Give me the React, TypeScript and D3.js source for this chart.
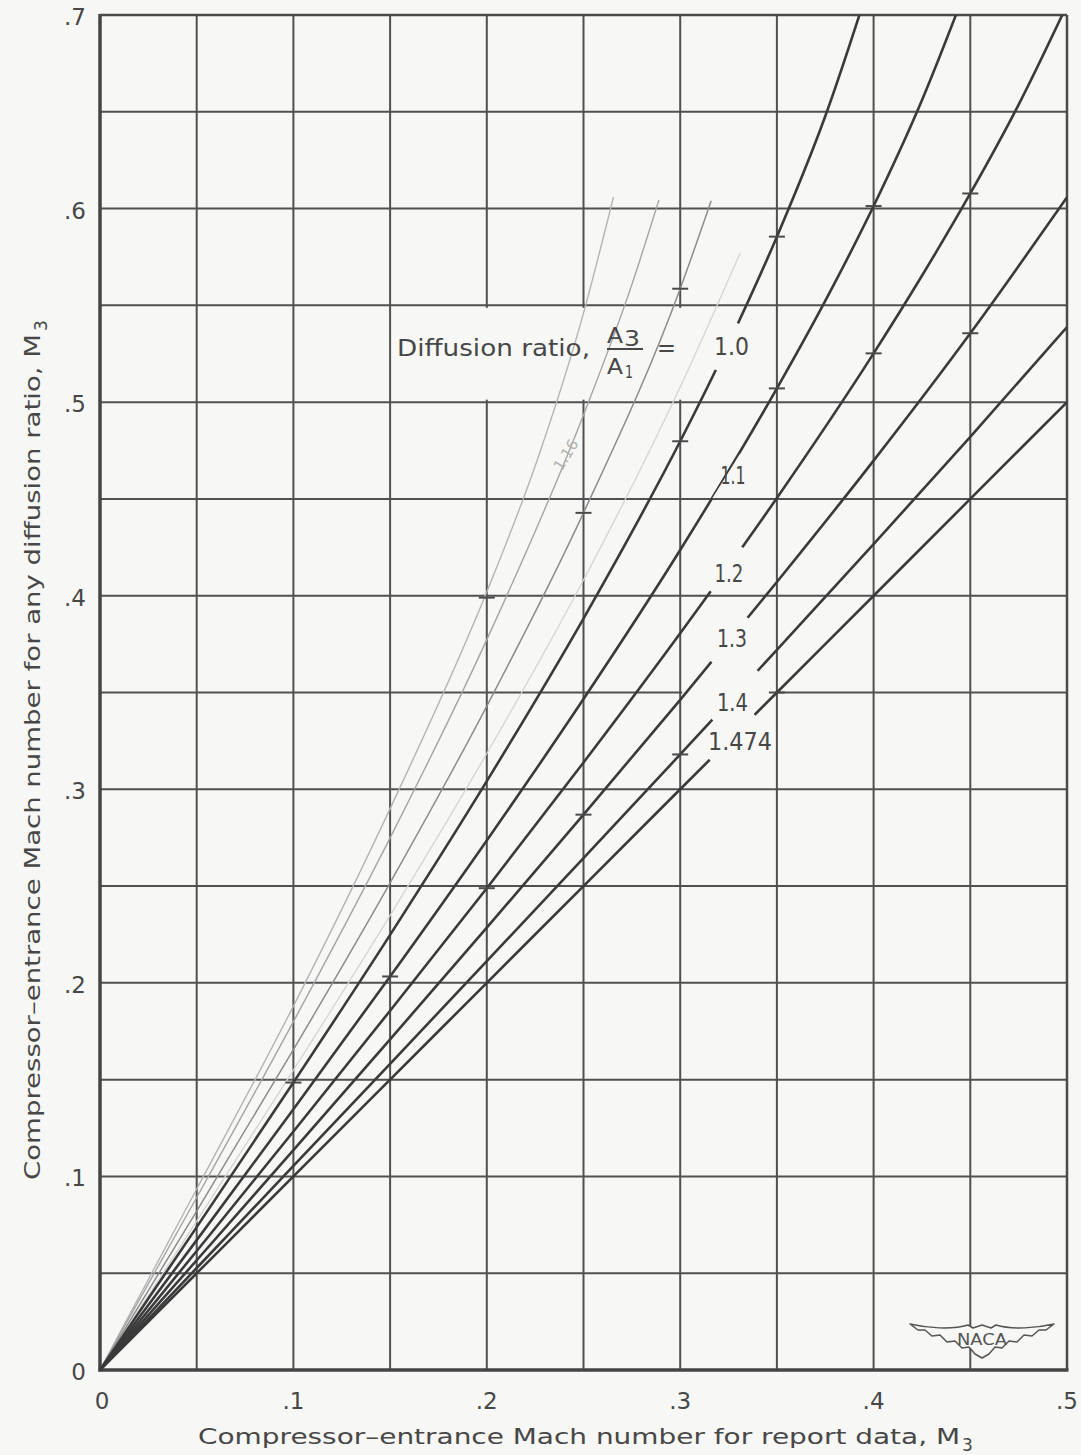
import React from "react";
import * as d3 from "d3";

const W = 1081;
const H = 1455;

// ---- axes / grid values ----
const gridXValues = [0, 0.05, 0.1, 0.15, 0.2, 0.25, 0.3, 0.35, 0.4, 0.45, 0.5];
const gridYValues = [0, 0.05, 0.1, 0.15, 0.2, 0.25, 0.3, 0.35, 0.4, 0.45, 0.5, 0.55, 0.6, 0.65, 0.7];
const xTickValues = [0, 0.1, 0.2, 0.3, 0.4, 0.5];
const xTickLabels = ["0", ".1", ".2", ".3", ".4", ".5"];
const yTickValues = [0, 0.1, 0.2, 0.3, 0.4, 0.5, 0.6, 0.7];
const yTickLabels = ["0", ".1", ".2", ".3", ".4", ".5", ".6", ".7"];

// ---- dark curves: diffusion ratio A3/A1 ----
const r100X = [0, 0.05, 0.1, 0.15, 0.2, 0.25, 0.275, 0.3, 0.325, 0.35, 0.375, 0.4];
const r100Y = [0, 0.0738, 0.1485, 0.2248, 0.3042, 0.3882, 0.4328, 0.4798, 0.5303, 0.5855, 0.6477, 0.7228];
const r110X = [0, 0.05, 0.1, 0.15, 0.2, 0.25, 0.3, 0.35, 0.375, 0.4, 0.425, 0.45];
const r110Y = [0, 0.0671, 0.1347, 0.2033, 0.2736, 0.3466, 0.4236, 0.5071, 0.5523, 0.6013, 0.656, 0.7194];
const r120X = [0, 0.05, 0.1, 0.15, 0.2, 0.25, 0.3, 0.35, 0.4, 0.425, 0.45, 0.475, 0.5];
const r120Y = [0, 0.0615, 0.1232, 0.1856, 0.2489, 0.3138, 0.3806, 0.4505, 0.5252, 0.5653, 0.6078, 0.6537, 0.7052];
const r130X = [0, 0.05, 0.1, 0.15, 0.2, 0.25, 0.3, 0.35, 0.4, 0.45, 0.5];
const r130Y = [0, 0.0567, 0.1136, 0.1708, 0.2285, 0.2869, 0.3462, 0.4071, 0.4698, 0.5356, 0.6058];
const r140X = [0, 0.05, 0.1, 0.15, 0.2, 0.25, 0.3, 0.35, 0.4, 0.45, 0.5];
const r140Y = [0, 0.0527, 0.1054, 0.1582, 0.2112, 0.2644, 0.318, 0.372, 0.4266, 0.4821, 0.5388];
const r1474X = [0, 0.05, 0.1, 0.15, 0.2, 0.25, 0.3, 0.35, 0.4, 0.45, 0.5];
const r1474Y = [0, 0.05, 0.1, 0.15, 0.2, 0.25, 0.3, 0.35, 0.4, 0.45, 0.5];
const darkLabels = ["1.0", "1.1", "1.2", "1.3", "1.4", "1.474"];

// ---- faint pencil curves ----
const p1X = [0, 0.05, 0.1, 0.15, 0.2, 0.225, 0.25, 0.2655];
const p1Y = [0, 0.0935, 0.188, 0.29, 0.402, 0.467, 0.546, 0.606];
const p2X = [0, 0.05, 0.1, 0.15, 0.2, 0.25, 0.275, 0.289];
const p2Y = [0, 0.0891, 0.18, 0.2749, 0.3773, 0.4934, 0.5607, 0.6045];
const p3X = [0, 0.05, 0.1, 0.15, 0.2, 0.25, 0.3, 0.316];
const p3Y = [0, 0.0821, 0.1655, 0.2517, 0.343, 0.4428, 0.5586, 0.604];
const p4X = [0, 0.05, 0.1, 0.15, 0.2, 0.25, 0.3, 0.331];
const p4Y = [0, 0.0769, 0.1549, 0.2349, 0.3185, 0.4081, 0.5078, 0.577];

// ---- plotted check marks on curves ----
const markX = [0.1, 0.15, 0.2, 0.25, 0.3, 0.35, 0.3, 0.35, 0.4, 0.45, 0.35, 0.4, 0.45, 0.2, 0.25, 0.3];
const markY = [0.1485, 0.2033, 0.2489, 0.2869, 0.318, 0.35, 0.4798, 0.5071, 0.5252, 0.5356, 0.5855, 0.6013, 0.6078, 0.399, 0.4428, 0.5586];

// ---- layout (not data) ----
const labelPos = [
  { x: 0.3265, y: 0.5287, w: 35 },
  { x: 0.3273, y: 0.4618, w: 25 },
  { x: 0.3252, y: 0.4112, w: 29 },
  { x: 0.3268, y: 0.3776, w: 30 },
  { x: 0.327, y: 0.3448, w: 31 },
  { x: 0.3309, y: 0.3244, w: 64 },
];
const gaps = [
  [0.3188, 0.5165, 0.33, 0.5406],
  [0.319, 0.4483, 0.3335, 0.4716],
  [0.3164, 0.4019, 0.332, 0.4251],
  [0.3164, 0.3657, 0.3345, 0.3889],
  [0.318, 0.3347, 0.3413, 0.36],
  [0.3154, 0.3151, 0.3387, 0.3383],
];
const faintStyles = [
  { stroke: "#b4b4b4", w: 1.4 },
  { stroke: "#a4a4a4", w: 1.4 },
  { stroke: "#8c8c8c", w: 1.5 },
  { stroke: "#d4d4d4", w: 1.3 },
];

const FONT = "'DejaVu Sans', 'Open Sans', sans-serif";
const INK = "#474747";
const BG = "#f7f7f5";

export default function App() {
  const sx = d3.scaleLinear().domain([0, 0.5]).range([100, 1067]);
  const sy = d3.scaleLinear().domain([0, 0.7]).range([1370, 15]);
  const line = d3
    .line<[number, number]>()
    .x((d) => sx(d[0]))
    .y((d) => sy(d[1]))
    .curve(d3.curveMonotoneX);

  const dark = [
    [r100X, r100Y],
    [r110X, r110Y],
    [r120X, r120Y],
    [r130X, r130Y],
    [r140X, r140Y],
    [r1474X, r1474Y],
  ].map(([xs, ys], i) => ({
    label: darkLabels[i],
    pts: d3.zip(xs, ys) as [number, number][],
    gap: gaps[i],
    pos: labelPos[i],
  }));
  const faint = [
    [p1X, p1Y],
    [p2X, p2Y],
    [p3X, p3Y],
    [p4X, p4Y],
  ].map(([xs, ys], i) => ({ pts: d3.zip(xs, ys) as [number, number][], st: faintStyles[i] }));
  const marks = d3.zip(markX, markY);

  const x0 = sx(0), x1 = sx(0.5), y0 = sy(0), y1 = sy(0.7);

  // NACA logo
  const lcx = 982, lcy = 1322;
  const wing =
    "M -72 2 C -55 6, -30 8, -14 3 L -9 6 L 0 3 L 9 6 L 14 3 C 30 8, 55 6, 72 2 " +
    "L 64 8 L 57 8 L 50 14 L 42 13 L 35 20 L 27 19 L 20 26 L 13 25 L 7 32 L 0 36 " +
    "L -7 32 L -13 25 L -20 26 L -27 19 L -35 20 L -42 13 L -50 14 L -57 8 L -64 8 Z";

  return (
    <div style={{ position: "absolute", left: 0, top: 0, width: W, height: H }}>
      <svg width={W} height={H} viewBox={`0 0 ${W} ${H}`} style={{ display: "block" }}>
        <defs>
          <clipPath id="plotClip">
            <rect x={x0} y={y1} width={x1 - x0} height={y0 - y1} />
          </clipPath>
          <mask id="gapMask" maskUnits="userSpaceOnUse" x={0} y={0} width={W} height={H}>
            <rect x={0} y={0} width={W} height={H} fill="white" />
            {dark.map((s, i) => (
              <line
                key={i}
                x1={sx(s.gap[0])}
                y1={sy(s.gap[1])}
                x2={sx(s.gap[2])}
                y2={sy(s.gap[3])}
                stroke="black"
                strokeWidth={12}
                strokeLinecap="butt"
              />
            ))}
          </mask>
        </defs>
        <rect x={0} y={0} width={W} height={H} fill={BG} />

        {/* grid */}
        <g stroke="#505050" strokeWidth={2}>
          {gridXValues.map((v) => (
            <line key={"gx" + v} x1={sx(v)} x2={sx(v)} y1={y0} y2={y1} />
          ))}
          {gridYValues.map((v) => (
            <line key={"gy" + v} x1={x0} x2={x1} y1={sy(v)} y2={sy(v)} />
          ))}
        </g>
        {/* blank areas where labels were lettered */}
        <rect x={sx(0.152)} y={sy(0.55) + 2.5} width={sx(0.3085) - sx(0.152)} height={sy(0.5) - sy(0.55) - 5} fill={BG} />
        <rect x={sx(0.3) + 2} y={sy(0.35) - 3} width={sx(0.35) - sx(0.3) - 4} height={6} fill={BG} />

        {/* axes frame */}
        <line x1={x0} x2={x0} y1={y1 - 1} y2={y0 + 1.5} stroke="#444" strokeWidth={3.5} />
        <line x1={x0 - 1.5} x2={x1 + 1.5} y1={y0} y2={y0} stroke="#444" strokeWidth={3.5} />
        <line x1={x1} x2={x1} y1={y1} y2={y0} stroke="#4a4a4a" strokeWidth={2.5} />
        <line x1={x0} x2={x1} y1={y1} y2={y1} stroke="#4a4a4a" strokeWidth={2.5} />

        {/* faint curves */}
        <g clipPath="url(#plotClip)" fill="none">
          {faint.map((f, i) => (
            <path key={i} d={line(f.pts) || ""} stroke={f.st.stroke} strokeWidth={f.st.w} />
          ))}
        </g>

        {/* dark curves */}
        <g clipPath="url(#plotClip)">
          <g mask="url(#gapMask)" fill="none" stroke="#3a3a3a" strokeWidth={2.6}>
            {dark.map((s, i) => (
              <path key={i} d={line(s.pts) || ""} />
            ))}
          </g>
        </g>

        {/* check marks */}
        <g stroke="#4a4a4a" strokeWidth={2}>
          {marks.map(([mx, my], i) => (
            <line key={i} x1={sx(mx) - 8} x2={sx(mx) + 8} y1={sy(my)} y2={sy(my)} />
          ))}
        </g>

        {/* curve labels */}
        <g fontFamily={FONT} fontSize={24} fill={INK}>
          {dark.map((s, i) => (
            <text
              key={i}
              x={sx(s.pos.x)}
              y={sy(s.pos.y)}
              textAnchor="middle"
              dominantBaseline="central"
              textLength={s.pos.w}
              lengthAdjust="spacingAndGlyphs"
            >
              {s.label}
            </text>
          ))}
        </g>

        {/* Diffusion ratio label */}
        <g fontFamily={FONT} fill={INK}>
          <text x={397} y={356} fontSize={23} textLength={193} lengthAdjust="spacingAndGlyphs">
            Diffusion ratio,
          </text>
          <text x={607} y={343} fontSize={22} textLength={16} lengthAdjust="spacingAndGlyphs">A</text>
          <text x={624} y={346} fontSize={21} textLength={16} lengthAdjust="spacingAndGlyphs">3</text>
          <line x1={607} x2={643} y1={349} y2={349} stroke={INK} strokeWidth={2} />
          <text x={607} y={374} fontSize={22} textLength={16} lengthAdjust="spacingAndGlyphs">A</text>
          <text x={625} y={378} fontSize={17} textLength={8} lengthAdjust="spacingAndGlyphs">1</text>
          <text x={657} y={356} fontSize={23} textLength={19} lengthAdjust="spacingAndGlyphs">=</text>
        </g>

        {/* pencil note */}
        <text
          x={566}
          y={455}
          fontFamily={FONT}
          fontSize={15}
          fill="#b2b2b2"
          textAnchor="middle"
          dominantBaseline="central"
          transform="rotate(-58 566 455)"
        >
          1.16
        </text>

        {/* tick labels */}
        <g fontFamily={FONT} fontSize={23} fill={INK}>
          {xTickValues.map((v, i) => (
            <text key={"xt" + v} x={sx(v) + (i === 0 ? 2 : 0)} y={1401} textAnchor="middle" dominantBaseline="central">
              {xTickLabels[i]}
            </text>
          ))}
          {yTickValues.map((v, i) => (
            <text key={"yt" + v} x={86} y={sy(v) + 2} textAnchor="end" dominantBaseline="central">
              {yTickLabels[i]}
            </text>
          ))}
        </g>

        {/* axis titles */}
        <g fontFamily={FONT} fill={INK}>
          <text x={198} y={1444} fontSize={21} textLength={762} lengthAdjust="spacingAndGlyphs">
            Compressor–entrance  Mach number for report data, M
          </text>
          <text x={962} y={1451} fontSize={17}>3</text>
          <g transform="translate(40 1180) rotate(-90)">
            <text x={0} y={0} fontSize={21} textLength={846} lengthAdjust="spacingAndGlyphs">
              Compressor–entrance Mach number for any diffusion ratio, M
            </text>
            <text x={849} y={7} fontSize={17}>3</text>
          </g>
        </g>

        {/* NACA logo */}
        <g transform={`translate(${lcx} ${lcy})`}>
          <path d={wing} fill={BG} stroke="#555" strokeWidth={1.5} strokeLinejoin="round" />
          <text x={0} y={18} fontFamily={FONT} fontSize={15} fill="#555" textAnchor="middle" dominantBaseline="central" textLength={50} lengthAdjust="spacingAndGlyphs">
            NACA
          </text>
        </g>
      </svg>
    </div>
  );
}
